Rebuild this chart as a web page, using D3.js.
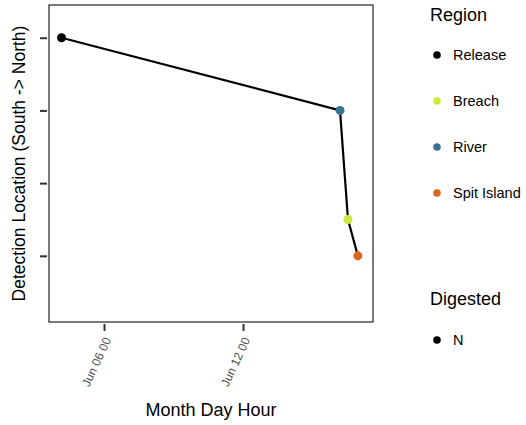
<!DOCTYPE html>
<html>
<head>
<meta charset="utf-8">
<script src="https://cdn.jsdelivr.net/npm/d3@7"></script>
<style>
  body { margin: 0; background: #fff; }
  svg { display: block; font-family: "Liberation Sans", Arial, Helvetica, sans-serif; }
</style>
</head>
<body>
<svg id="chart" width="526" height="425"></svg>
<script>
// Detections of one tagged fish, in time order
const regions = ["Release", "River", "Breach", "Spit Island"];
const detectionTimes = ["2021-06-04T04:00", "2021-06-16T04:30", "2021-06-16T12:45", "2021-06-16T23:00"];
const locations = [4, 3, 1.5, 1];

// Legend entries and colours
const regionOrder = ["Release", "Breach", "River", "Spit Island"];
const regionColors = ["#000000", "#cfe63a", "#3b748f", "#d8661c"];
const digestedLevels = ["N"];

// Axis ticks
const xTickTimes = ["2021-06-06T00:00", "2021-06-12T00:00"];
const xTickLabels = ["Jun 06 00", "Jun 12 00"];
const yTicks = [1, 2, 3, 4];
const xLimits = ["2021-06-03T15:00", "2021-06-17T14:40"];
const yLimits = [0.09, 4.45];

const parse = d3.utcParse("%Y-%m-%dT%H:%M");
const data = regions.map((r, i) => ({ region: r, time: parse(detectionTimes[i]), loc: locations[i] }));

const svg = d3.select("#chart");
const panel = { left: 49, top: 5, right: 373, bottom: 322 };

const x = d3.scaleUtc().domain(xLimits.map(parse)).range([panel.left, panel.right]);
const y = d3.scaleLinear().domain(yLimits).range([panel.bottom, panel.top]);
const color = d3.scaleOrdinal().domain(regionOrder).range(regionColors);

// Panel border
svg.append("rect")
  .attr("x", panel.left).attr("y", panel.top)
  .attr("width", panel.right - panel.left).attr("height", panel.bottom - panel.top)
  .attr("fill", "#fff").attr("stroke", "#333").attr("stroke-width", 1.3);

// Y axis: ticks without labels
const yAxis = d3.axisLeft(y).tickValues(yTicks).tickFormat("").tickSize(7).tickSizeOuter(0);
const gy = svg.append("g").attr("transform", `translate(${panel.left - 2},0)`).call(yAxis);
gy.select(".domain").remove();
gy.selectAll(".tick line").attr("stroke", "#333").attr("stroke-width", 2);

// X axis: rotated date labels
const labelFor = new Map(xTickTimes.map((t, i) => [+parse(t), xTickLabels[i]]));
const xAxis = d3.axisBottom(x).tickValues(xTickTimes.map(parse))
  .tickFormat(d => labelFor.get(+d)).tickSize(7).tickSizeOuter(0);
const gx = svg.append("g").attr("transform", `translate(0,${panel.bottom + 2})`).call(xAxis);
gx.select(".domain").remove();
gx.selectAll(".tick line").attr("stroke", "#333").attr("stroke-width", 2);
gx.selectAll(".tick text")
  .attr("fill", "#4d4d4d").attr("font-size", 12)
  .attr("text-anchor", "end")
  .attr("x", 0).attr("y", 0).attr("dy", "0.35em")
  .attr("transform", "translate(3,14) rotate(-65)");

// Movement path
svg.append("path")
  .datum(data)
  .attr("fill", "none").attr("stroke", "#000").attr("stroke-width", 2.2)
  .attr("d", d3.line().x(d => x(d.time)).y(d => y(d.loc)));

// Detection points
svg.selectAll("circle.det")
  .data(data).join("circle").attr("class", "det")
  .attr("cx", d => x(d.time)).attr("cy", d => y(d.loc))
  .attr("r", 4.5).attr("fill", d => color(d.region));

// Axis titles
svg.append("text")
  .attr("x", (panel.left + panel.right) / 2).attr("y", 416)
  .attr("text-anchor", "middle").attr("font-size", 18).attr("fill", "#000")
  .text("Month Day Hour");
svg.append("text")
  .attr("transform", `translate(25,${(panel.top + panel.bottom) / 2}) rotate(-90)`)
  .attr("text-anchor", "middle").attr("font-size", 17.5).attr("fill", "#000")
  .text("Detection Location (South -> North)");

// Legends
const lg = svg.append("g");
lg.append("text").attr("x", 430).attr("y", 21).attr("font-size", 18).text("Region");
regionOrder.forEach((r, i) => {
  const cy = 55 + i * 46;
  lg.append("circle").attr("cx", 437).attr("cy", cy).attr("r", 3.8).attr("fill", color(r));
  lg.append("text").attr("x", 453).attr("y", cy).attr("dy", "0.35em")
    .attr("font-size", 14.5).attr("fill", "#000").text(r);
});
lg.append("text").attr("x", 430).attr("y", 305).attr("font-size", 18).text("Digested");
digestedLevels.forEach((v, i) => {
  const cy = 340 + i * 46;
  lg.append("circle").attr("cx", 437).attr("cy", cy).attr("r", 3.8).attr("fill", "#000");
  lg.append("text").attr("x", 453).attr("y", cy).attr("dy", "0.35em")
    .attr("font-size", 14.5).attr("fill", "#000").text(v);
});
</script>
</body>
</html>
